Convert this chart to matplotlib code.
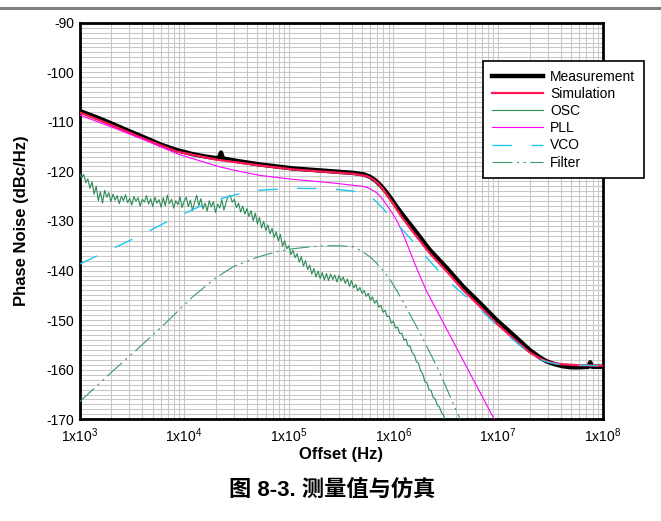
import numpy as np
import matplotlib
matplotlib.use("Agg")
import matplotlib.pyplot as plt
from matplotlib.ticker import MultipleLocator, LogLocator, FixedLocator, NullFormatter
from matplotlib.lines import Line2D

plt.rcParams['font.family'] = ['Liberation Sans', 'Noto Sans CJK SC', 'DejaVu Sans']
plt.rcParams['mathtext.default'] = 'regular'

# ---------------- data ----------------
meas_f = [1e3, 1.5e3, 2e3, 3e3, 4e3, 6e3, 8.5e3, 1.2e4, 1.6e4, 2.0e4, 2.15e4, 2.25e4, 2.35e4,
          3e4, 5.3e4, 1.1e5, 2.3e5, 4.15e5, 5.2e5, 6e5, 6.8e5, 7.6e5, 8.5e5, 9.5e5, 1.08e6, 1.25e6,
          1.55e6, 2.22e6, 3.24e6, 4.62e6, 6.74e6, 9.6e6, 1.4e7, 2.0e7, 2.5e7, 2.9e7, 3.5e7, 4.17e7,
          5e7, 6e7, 7.3e7, 7.6e7, 7.9e7, 1e8]
meas_db = [-107.8, -109.2, -110.3, -111.9, -113.0, -114.6, -115.7, -116.5, -117.0, -117.3, -117.3, -116.2, -117.4,
           -117.8, -118.6, -119.4, -119.9, -120.3, -120.6, -121.1, -121.9, -122.9, -124.1, -125.5, -127.2, -129.0,
           -131.5, -135.8, -139.5, -143.2, -146.6, -149.9, -153.0, -156.0, -157.5, -158.3, -158.9, -159.3,
           -159.5, -159.5, -159.4, -158.5, -159.4, -159.4]

sim_f = [1e3, 2e3, 4e3, 8.5e3, 2e4, 5.3e4, 1.1e5, 2.3e5, 4.15e5, 5.5e5, 6.4e5, 7.2e5, 8e5, 9e5, 1e6,
         1.2e6, 1.55e6, 2.22e6, 3.24e6, 4.62e6, 6.74e6, 9.6e6, 1.4e7, 2e7, 2.5e7, 2.9e7, 3.5e7, 4.17e7,
         6e7, 1e8]
sim_db = [-108.1, -110.6, -113.3, -116.0, -117.6, -118.8, -119.6, -120.1, -120.5, -120.9, -121.6, -122.5,
          -123.7, -125.2, -126.6, -129.2, -132.3, -136.5, -140.2, -143.9, -147.3, -150.6, -153.7, -156.5,
          -157.7, -158.3, -158.7, -158.9, -159.1, -159.2]

pll_f = [1e3, 2e3, 4e3, 9e3, 2.2e4, 3.4e4, 5.3e4, 1.1e5, 2.3e5, 4.15e5, 5.1e5, 5.7e5, 6.2e5, 6.8e5,
         7.4e5, 8e5, 8.8e5, 9.6e5, 1.07e6, 1.18e6, 1.3e6, 1.45e6, 1.6e6, 1.8e6, 2.07e6, 4.5e6, 9.2e6, 1.2e7]
pll_db = [-108.6, -111.0, -113.5, -116.6, -119.1, -120.0, -120.8, -121.6, -122.2, -122.8, -123.0, -123.3,
          -123.7, -124.2, -124.9, -125.8, -127.0, -128.2, -129.8, -131.6, -133.8, -136.3, -138.6, -141.2,
          -144.1, -157.6, -170.0, -174.6]

vco_f = [1e3, 3.5e3, 7.9e3, 1.77e4, 4.27e4, 1.1e5, 2.5e5, 4.15e5, 5.5e5, 6.4e5, 7.4e5, 8.6e5, 1e6,
         1.55e6, 2.1e6, 3.24e6, 4.62e6, 6.74e6, 9.6e6, 1.4e7, 2e7, 2.5e7, 2.9e7, 3.5e7, 4.17e7, 1e8]
vco_db = [-138.7, -133.3, -129.5, -126.1, -123.9, -123.4, -123.5, -124.0, -124.6, -125.5, -126.8, -128.3,
          -129.8, -134.2, -137.5, -141.9, -144.7, -147.8, -150.9, -154.0, -156.7, -157.8, -158.4, -158.8,
          -159.0, -159.2]

filt_f = [1e3, 2e3, 4e3, 6e3, 1.22e4, 2e4, 2.95e4, 5e4, 7.6e4, 1.1e5, 1.6e5, 2.3e5, 3e5, 4.15e5,
          5.1e5, 6.2e5, 7.4e5, 9e5, 1.07e6, 1.8e6, 2.69e6, 4.3e6, 5e6]
filt_db = [-166.5, -160.6, -154.9, -151.5, -145.2, -141.5, -139.2, -137.3, -136.2, -135.6, -135.2, -135.0,
           -135.0, -135.2, -136.2, -137.5, -139.2, -141.4, -143.9, -152.6, -160.0, -169.8, -172.0]

osc_logf_start, osc_logf_stop = 3.0, 6.5
osc_db = [-120.2, -121.4, -120.6, -122.3, -121.5, -123.4, -122.1, -124.6, -123.0, -125.9,
          -124.1, -126.4, -123.8, -125.2, -124.3, -126.1, -124.6, -125.8, -124.9, -126.5,
          -125.0, -125.9, -124.7, -126.3, -125.4, -126.8, -125.1, -126.0, -125.3, -127.0,
          -125.6, -126.2, -124.9, -126.6, -125.5, -127.1, -125.2, -126.4, -125.7, -127.2,
          -125.3, -126.9, -124.8, -126.5, -125.6, -127.4, -125.9, -126.7, -125.1, -127.3,
          -126.0, -125.2, -127.1, -125.8, -127.9, -126.2, -124.8, -126.9, -125.5, -127.6,
          -126.4, -128.0, -125.9, -127.2, -126.1, -128.3, -126.6, -127.4, -125.7, -127.8,
          -126.3, -125.0, -124.9, -126.2, -125.6, -127.3, -126.4, -128.2, -127.0, -128.6,
          -127.5, -129.1, -127.9, -130.0, -128.4, -130.6, -129.3, -131.4, -130.1, -131.9,
          -130.8, -132.6, -131.5, -133.3, -132.2, -134.0, -132.7, -135.1, -134.0, -135.6,
          -135.0, -136.8, -135.9, -137.4, -136.6, -138.3, -137.2, -139.1, -138.0, -139.8,
          -138.9, -140.7, -139.6, -141.3, -140.1, -141.6, -140.4, -141.9, -140.6, -142.0,
          -140.7, -141.8, -140.9, -142.3, -141.0, -142.1, -141.3, -142.6, -141.7, -143.2,
          -142.0, -143.5, -142.8, -144.1, -143.4, -144.6, -144.0, -145.2, -144.6, -146.0,
          -145.3, -146.6, -146.0, -147.4, -147.0, -148.4, -148.0, -149.3, -149.2, -150.6,
          -150.2, -151.6, -151.4, -152.7, -152.6, -154.0, -153.8, -155.2, -155.3, -156.6,
          -157.0, -158.4, -158.7, -160.2, -160.8, -162.4, -162.6, -164.0, -164.2, -165.6,
          -165.9, -167.2, -167.5, -168.7, -169.2, -170.4]
osc_f = np.logspace(osc_logf_start, osc_logf_stop, len(osc_db))

x_ticks = [1e3, 1e4, 1e5, 1e6, 1e7, 1e8]
x_ticklabels = [r'1x10$^{3}$', r'1x10$^{4}$', r'1x10$^{5}$', r'1x10$^{6}$', r'1x10$^{7}$', r'1x10$^{8}$']
y_ticks = [-90, -100, -110, -120, -130, -140, -150, -160, -170]
y_ticklabels = ['-90', '-100', '-110', '-120', '-130', '-140', '-150', '-160', '-170']

# ---------------- figure ----------------
W, H = 661, 521
fig = plt.figure(figsize=(W / 100, H / 100), dpi=100)
fig.patch.set_facecolor('white')

L, R, T, B = 79.5, 602.7, 22.7, 419.3
ax = fig.add_axes([L / W, 1 - B / H, (R - L) / W, (B - T) / H])
ax.set_xscale('log')
ax.set_xlim(1e3, 1e8)
ax.set_ylim(-170, -90)

grid_c = '#c8c8c8'
ax.xaxis.set_major_locator(FixedLocator(x_ticks))
ax.set_xticklabels(x_ticklabels)
ax.xaxis.set_minor_locator(LogLocator(base=10, subs=np.arange(2, 10), numticks=50))
ax.xaxis.set_minor_formatter(NullFormatter())
ax.yaxis.set_major_locator(FixedLocator(y_ticks))
ax.set_yticklabels(y_ticklabels)
ax.yaxis.set_minor_locator(MultipleLocator(1))
ax.grid(which='both', color=grid_c, lw=0.75, zorder=0)
ax.set_axisbelow(True)
ax.tick_params(which='both', length=0)
ax.tick_params(axis='x', pad=5, labelsize=10)
ax.tick_params(axis='y', pad=4, labelsize=10)
for s in ax.spines.values():
    s.set_linewidth(2.0)
    s.set_color('black')

l_meas, = ax.plot(meas_f, meas_db, color='black', lw=3.2, label='Measurement', zorder=3,
                  solid_joinstyle='round')
l_sim, = ax.plot(sim_f, sim_db, color='#ff1a55', lw=1.6, label='Simulation', zorder=4)
l_osc, = ax.plot(osc_f, osc_db, color='#2e8b57', lw=0.8, label='OSC', zorder=5)
l_pll, = ax.plot(pll_f, pll_db, color='#ff00ff', lw=0.8, label='PLL', zorder=5)
l_vco, = ax.plot(vco_f, vco_db, color='#1ec8f0', lw=1.0, dashes=(14, 14), label='VCO', zorder=5)
l_fil, = ax.plot(filt_f, filt_db, color='#3a9a6a', lw=0.8, dashes=(18, 4, 2, 4, 2, 4), label='Filter', zorder=5)

leg = fig.legend(handles=[l_meas, l_sim, l_osc, l_pll, l_vco, l_fil],
                 loc='upper left', bbox_to_anchor=(483 / W, 1 - 61 / H), borderaxespad=0,
                 fontsize=10, frameon=True, fancybox=False, framealpha=1, edgecolor='black',
                 handlelength=3.7, handletextpad=0.5, labelspacing=0.23, borderpad=0.62)
leg.get_frame().set_linewidth(1.2)

fig.text(341 / W, 1 - 455 / H, 'Offset (Hz)', ha='center', va='center', fontsize=12, fontweight='bold')
fig.text(22 / W, 1 - 221 / H, 'Phase Noise (dBc/Hz)', ha='center', va='center', rotation=90,
         fontsize=12, fontweight='bold')
fig.text(332 / W, 1 - 490 / H, '图 8-3. 测量值与仿真', ha='center', va='center', fontsize=16,
         fontweight='bold')

fig.add_artist(Line2D([0, 1], [1 - 7.5 / H, 1 - 7.5 / H], color='#808080', lw=2.2,
                      transform=fig.transFigure))

fig.savefig('out.png', dpi=100)
